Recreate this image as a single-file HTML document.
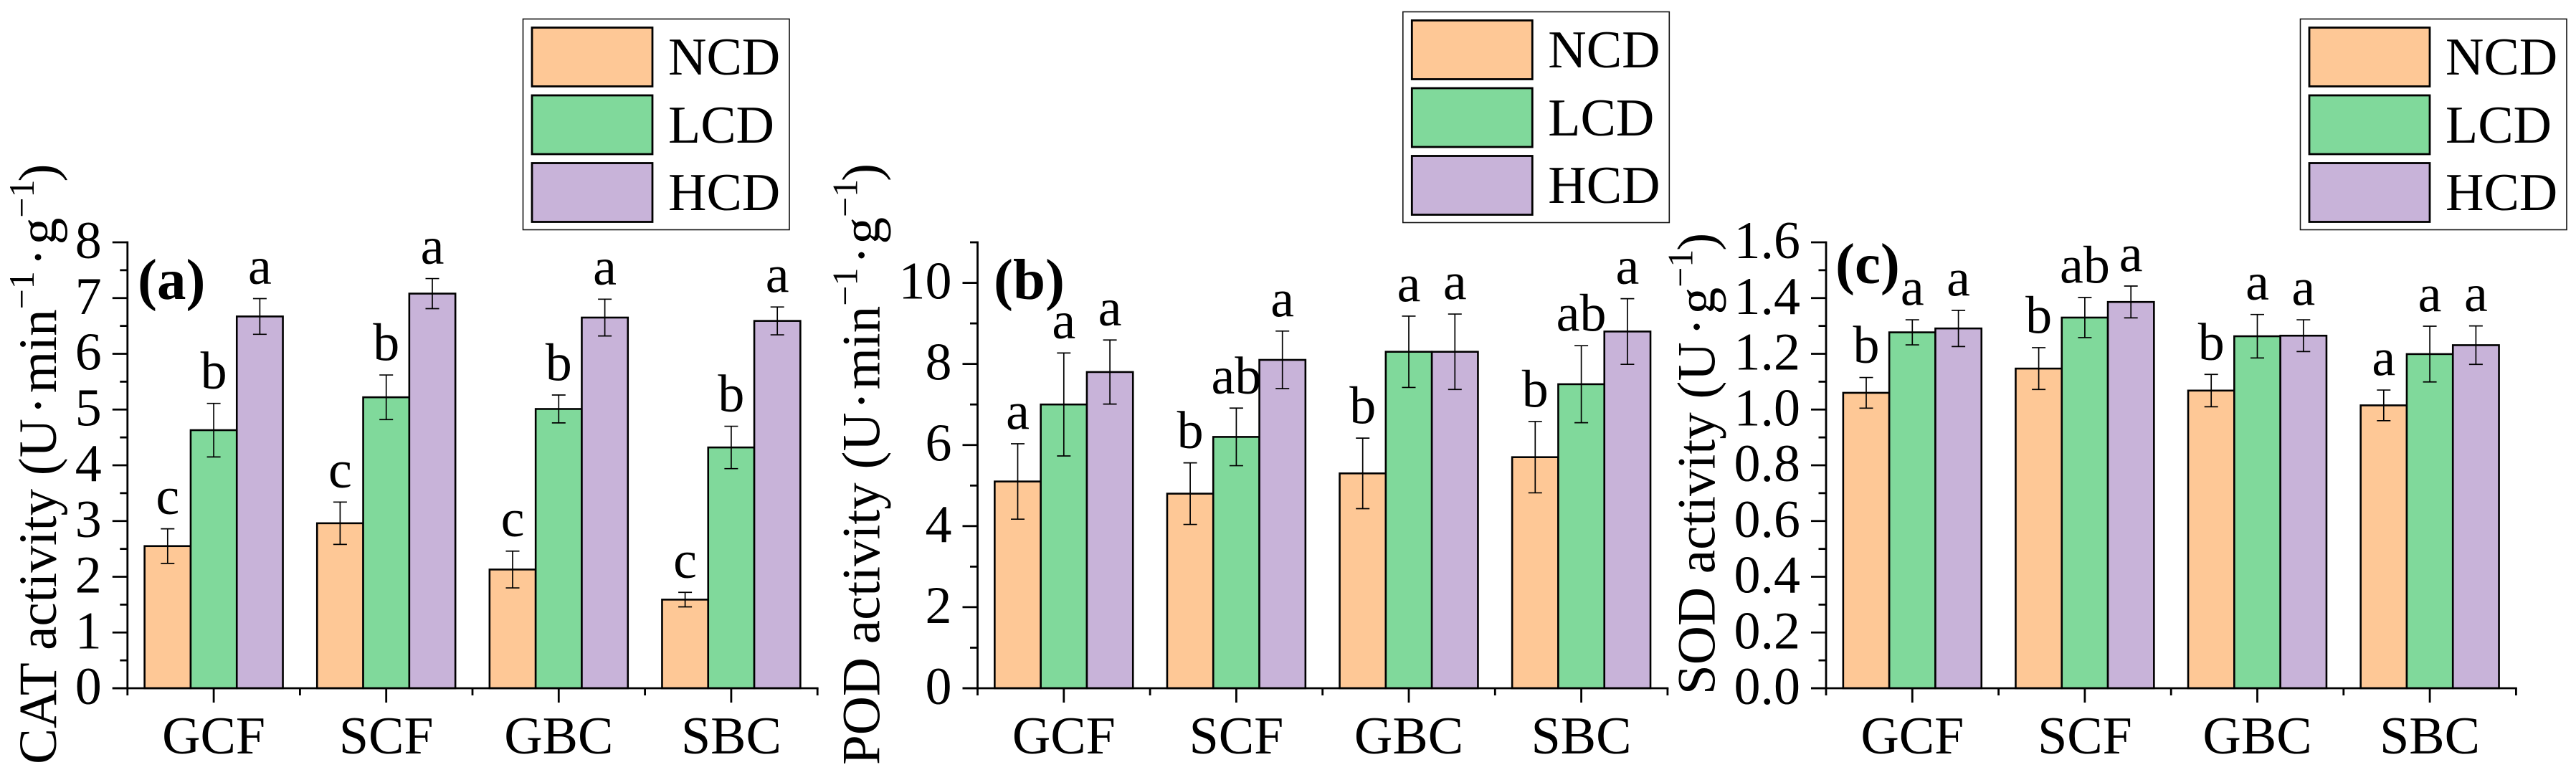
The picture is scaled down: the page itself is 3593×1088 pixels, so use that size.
<!DOCTYPE html>
<html lang="en">
<head>
<meta charset="utf-8">
<title>CAT, POD and SOD activity bar charts</title>
<style>
  html, body { margin: 0; padding: 0; background: #fff; }
  svg { display: block; font-family: "Liberation Serif", serif; fill: #000; }
</style>
</head>
<body>
<svg id="figure" xmlns="http://www.w3.org/2000/svg" width="3593" height="1088" viewBox="0 0 3593 1088">
  <rect x="0" y="0" width="3593" height="1088" fill="#ffffff"/>

  <g id="panel-a"></g>
  <g id="panel-b"></g>
  <g id="panel-c"></g>

  <text transform="translate(78,1066) rotate(-90)" font-size="75">CAT activity (U<tspan dx="6">·</tspan><tspan dx="5">min</tspan><tspan dy="-31" font-size="50">−1</tspan><tspan dy="31" dx="7">·</tspan><tspan dx="5">g</tspan><tspan dy="-31" font-size="50">−1</tspan><tspan dy="31" dx="-3">)</tspan></text>
  <text transform="translate(1226.5,1067) rotate(-90)" font-size="75">POD activity (U<tspan dx="4">·</tspan><tspan dx="3">min</tspan><tspan dy="-31" font-size="50">−1</tspan><tspan dy="31" dx="5">·</tspan><tspan dx="3">g</tspan><tspan dy="-31" font-size="50">−1</tspan><tspan dy="31" dx="-3">)</tspan></text>
  <text transform="translate(2391.5,969) rotate(-90)" font-size="75">SOD activity (U<tspan dx="9">·</tspan><tspan dx="5">g</tspan><tspan dy="-31" font-size="50">−1</tspan><tspan dy="31" dx="-2">)</tspan></text>

  <text x="192" y="417" font-size="81" font-weight="bold">(a)</text>
  <text x="1386" y="417" font-size="81" font-weight="bold">(b)</text>
  <text x="2560" y="395" font-size="81" font-weight="bold">(c)</text>

  <g font-size="74">
    <rect x="729.5" y="26.5" width="371.5" height="294" fill="#fff" stroke="#111" stroke-width="1.6"/>
    <rect x="742" y="38.5" width="168" height="82" fill="#FEC896" stroke="#000" stroke-width="2.8"/>
    <rect x="742" y="133" width="168" height="82" fill="#80D99B" stroke="#000" stroke-width="2.8"/>
    <rect x="742" y="227.5" width="168" height="82" fill="#C8B3D9" stroke="#000" stroke-width="2.8"/>
    <text x="932" y="104">NCD</text>
    <text x="932" y="199">LCD</text>
    <text x="932" y="293">HCD</text>
  </g>
  <g font-size="74" transform="translate(1227.3,-10)">
    <rect x="729.5" y="26.5" width="371.5" height="294" fill="#fff" stroke="#111" stroke-width="1.6"/>
    <rect x="742" y="38.5" width="168" height="82" fill="#FEC896" stroke="#000" stroke-width="2.8"/>
    <rect x="742" y="133" width="168" height="82" fill="#80D99B" stroke="#000" stroke-width="2.8"/>
    <rect x="742" y="227.5" width="168" height="82" fill="#C8B3D9" stroke="#000" stroke-width="2.8"/>
    <text x="932" y="104">NCD</text>
    <text x="932" y="199">LCD</text>
    <text x="932" y="293">HCD</text>
  </g>
  <g font-size="74" transform="translate(2479,0)">
    <rect x="729.5" y="26.5" width="371.5" height="294" fill="#fff" stroke="#111" stroke-width="1.6"/>
    <rect x="742" y="38.5" width="168" height="82" fill="#FEC896" stroke="#000" stroke-width="2.8"/>
    <rect x="742" y="133" width="168" height="82" fill="#80D99B" stroke="#000" stroke-width="2.8"/>
    <rect x="742" y="227.5" width="168" height="82" fill="#C8B3D9" stroke="#000" stroke-width="2.8"/>
    <text x="932" y="104">NCD</text>
    <text x="932" y="199">LCD</text>
    <text x="932" y="293">HCD</text>
  </g>
</svg>

<script>
const categories = ['GCF', 'SCF', 'GBC', 'SBC'];
const seriesNames = ['NCD', 'LCD', 'HCD'];

const catNCD = [2.55, 2.96, 2.13, 1.59];
const catLCD = [4.63, 5.22, 5.01, 4.32];
const catHCD = [6.67, 7.08, 6.65, 6.59];
const catErrNCD = [0.31, 0.38, 0.33, 0.13];
const catErrLCD = [0.48, 0.40, 0.25, 0.38];
const catErrHCD = [0.32, 0.27, 0.33, 0.25];
const catLettersNCD = ['c', 'c', 'c', 'c'];
const catLettersLCD = ['b', 'b', 'b', 'b'];
const catLettersHCD = ['a', 'a', 'a', 'a'];
const catTicks = ['0', '1', '2', '3', '4', '5', '6', '7', '8'];

const podNCD = [5.1, 4.8, 5.3, 5.7];
const podLCD = [7.0, 6.2, 8.3, 7.5];
const podHCD = [7.8, 8.1, 8.3, 8.8];
const podErrNCD = [0.93, 0.76, 0.87, 0.88];
const podErrLCD = [1.27, 0.71, 0.88, 0.95];
const podErrHCD = [0.79, 0.71, 0.93, 0.81];
const podLettersNCD = ['a', 'b', 'b', 'b'];
const podLettersLCD = ['a', 'ab', 'a', 'ab'];
const podLettersHCD = ['a', 'a', 'a', 'a'];
const podTicks = ['0', '2', '4', '6', '8', '10'];

const sodNCD = [1.06, 1.147, 1.068, 1.015];
const sodLCD = [1.277, 1.33, 1.263, 1.199];
const sodHCD = [1.291, 1.386, 1.265, 1.231];
const sodErrNCD = [0.055, 0.075, 0.058, 0.055];
const sodErrLCD = [0.045, 0.072, 0.078, 0.10];
const sodErrHCD = [0.065, 0.057, 0.057, 0.069];
const sodLettersNCD = ['b', 'b', 'b', 'a'];
const sodLettersLCD = ['a', 'ab', 'a', 'a'];
const sodLettersHCD = ['a', 'a', 'a', 'a'];
const sodTicks = ['0.0', '0.2', '0.4', '0.6', '0.8', '1.0', '1.2', '1.4', '1.6'];

const SVG_NS = 'http://www.w3.org/2000/svg';
const seriesColors = ['#FEC896', '#80D99B', '#C8B3D9'];
const Y_ZERO = 960;
const Y_TOP = 338;
const CAT_STEP = 240.6;
const BAR_W = 64.3;
const FONT = 74;

function shape(parent, tag) {
  const el = document.createElementNS(SVG_NS, tag);
  parent.appendChild(el);
  return el;
}

function stroked(el, x1, y1, x2, y2, width) {
  el.setAttribute('x1', x1);
  el.setAttribute('y1', y1);
  el.setAttribute('x2', x2);
  el.setAttribute('y2', y2);
  el.setAttribute('stroke', '#000');
  el.setAttribute('stroke-width', width);
}

function drawPanel(groupId, axisX, yMax, minorStep, ticks, values, errors, letters) {
  const g = document.getElementById(groupId);
  const yScale = v => Y_ZERO - (v / yMax) * (Y_ZERO - Y_TOP);
  const groupCenter = i => axisX + CAT_STEP * (i + 0.5);
  const barCenter = (i, s) => groupCenter(i) + (s - 1) * BAR_W;

  // Bars
  values.forEach((vals, s) => {
    vals.forEach((v, i) => {
      const bar = shape(g, 'rect');
      
      
      bar.setAttribute('x', barCenter(i, s) - BAR_W / 2);
      bar.setAttribute('y', yScale(v));
      bar.setAttribute('width', BAR_W);
      bar.setAttribute('height', Y_ZERO - yScale(v));
      bar.setAttribute('fill', seriesColors[s]);
      bar.setAttribute('stroke', '#000');
      bar.setAttribute('stroke-width', 2.6);
    });
  });

  // Error bars and significance letters
  values.forEach((vals, s) => {
    vals.forEach((v, i) => {
      const cx = barCenter(i, s);
      const top = yScale(v + errors[s][i]);
      const bottom = yScale(v - errors[s][i]);

      const stem = shape(g, 'line');
      
      
      stroked(stem, cx, top, cx, bottom, 1.7);

      const capTop = shape(g, 'line');
      
      
      stroked(capTop, cx - 9.5, top, cx + 9.5, top, 1.7);

      const capBottom = shape(g, 'line');
      
      
      stroked(capBottom, cx - 9.5, bottom, cx + 9.5, bottom, 1.7);

      const letter = shape(g, 'text');
      
      
      letter.setAttribute('x', cx);
      letter.setAttribute('y', top - 20.5);
      letter.setAttribute('text-anchor', 'middle');
      letter.setAttribute('font-size', FONT);
      letter.textContent = letters[s][i];
    });
  });

  // Y axis
  const yAxis = shape(g, 'line');
  
  
  stroked(yAxis, axisX, Y_TOP - 1.4, axisX, Y_ZERO + 1.4, 2.8);

  // Minor y ticks
  const minorCount = Math.round(yMax / minorStep);
  const majorValues = ticks.map(Number);
  for (let k = 0; k <= minorCount; k++) {
    const v = k * minorStep;
    if (majorValues.some(m => Math.abs(m - v) < 1e-6)) continue;
    const t = shape(g, 'line');
    
    
    stroked(t, axisX - 10.5, yScale(v), axisX, yScale(v), 2.8);
  }

  // Major y ticks and labels
  ticks.forEach(label => {
    const v = Number(label);
    const t = shape(g, 'line');
    
    
    stroked(t, axisX - 21, yScale(v), axisX, yScale(v), 2.8);

    const txt = shape(g, 'text');
    
    
    txt.setAttribute('x', axisX - 36);
    txt.setAttribute('y', yScale(v) + 22);
    txt.setAttribute('text-anchor', 'end');
    txt.setAttribute('font-size', FONT);
    txt.textContent = label;
  });

  // X axis
  const xAxis = shape(g, 'line');
  
  
  stroked(xAxis, axisX - 21, Y_ZERO, axisX + CAT_STEP * categories.length + 1.4, Y_ZERO, 2.8);

  // Minor x ticks at category boundaries
  for (let k = 0; k <= categories.length; k++) {
    const t = shape(g, 'line');
    
    
    stroked(t, axisX + CAT_STEP * k, Y_ZERO, axisX + CAT_STEP * k, Y_ZERO + 10, 2.8);
  }

  // Major x ticks and category labels
  categories.forEach((name, i) => {
    const t = shape(g, 'line');
    
    
    stroked(t, groupCenter(i), Y_ZERO, groupCenter(i), Y_ZERO + 20, 2.8);

    const txt = shape(g, 'text');
    
    
    txt.setAttribute('x', groupCenter(i));
    txt.setAttribute('y', 1051);
    txt.setAttribute('text-anchor', 'middle');
    txt.setAttribute('font-size', FONT);
    txt.textContent = name;
  });
}

drawPanel('panel-a', 177.8, 8, 0.5, catTicks,
  [catNCD, catLCD, catHCD],
  [catErrNCD, catErrLCD, catErrHCD],
  [catLettersNCD, catLettersLCD, catLettersHCD]);

drawPanel('panel-b', 1363.5, 11, 1, podTicks,
  [podNCD, podLCD, podHCD],
  [podErrNCD, podErrLCD, podErrHCD],
  [podLettersNCD, podLettersLCD, podLettersHCD]);

drawPanel('panel-c', 2547, 1.6, 0.1, sodTicks,
  [sodNCD, sodLCD, sodHCD],
  [sodErrNCD, sodErrLCD, sodErrHCD],
  [sodLettersNCD, sodLettersLCD, sodLettersHCD]);
</script>
</body>
</html>
